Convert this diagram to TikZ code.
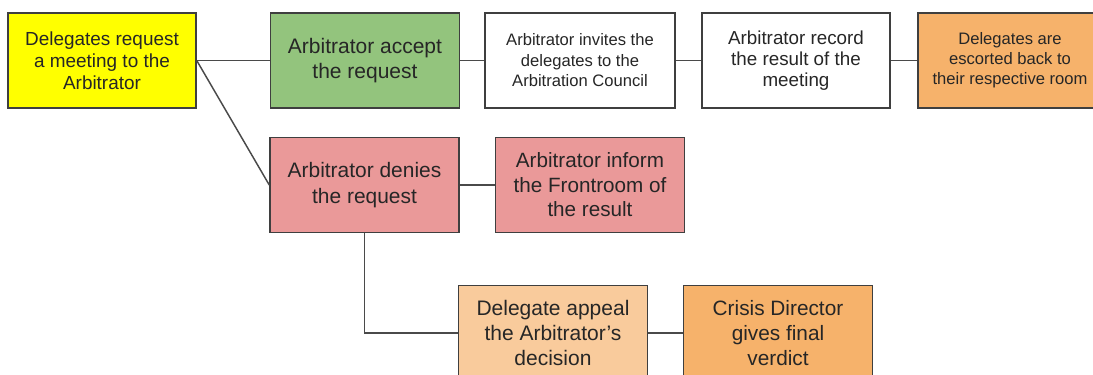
\documentclass[tikz,border=0pt]{standalone}
\usepackage{fontspec}
\setmainfont{Liberation Sans}
\definecolor{bordc}{HTML}{3F3F3F}
\definecolor{linec}{HTML}{4A4A4A}
\definecolor{textc}{HTML}{262626}
\definecolor{cyellow}{HTML}{FFFF00}
\definecolor{cgreen}{HTML}{93C47D}
\definecolor{cred}{HTML}{EA9999}
\definecolor{clorange}{HTML}{F9CB9C}
\definecolor{corange}{HTML}{F6B26B}
\begin{document}
\begin{tikzpicture}[x=0.75pt,y=-0.75pt,
  box/.style={draw=bordc, line width=1.1pt, minimum width=141.75pt, minimum height=71.25pt,
              align=center, inner sep=0pt, text=textc},
  conn/.style={draw=linec, line width=1.1pt}]
\useasboundingbox (0,0) rectangle (1093,375);
\clip (0,0) rectangle (1093,375);
\fill[white] (0,0) rectangle (1093,375);
\node[box, fill=cyellow, minimum width=141pt, font=\fontsize{14.2}{16.3}\selectfont] (b1) at (102,60.5)
  {Delegates request\\a meeting to the\\Arbitrator};
\node[box, fill=cgreen, font=\fontsize{15.75}{18.75}\selectfont] (b2) at (365,60.5)
  {Arbitrator accept\\the request};
\node[box, fill=white, minimum width=142.5pt, font=\fontsize{12.45}{15.4}\selectfont] (b3) at (580,60.5)
  {Arbitrator invites the\\delegates to the\\Arbitration Council};
\node[box, fill=white, minimum width=141pt, font=\fontsize{14.1}{16}\selectfont] (b4) at (796,60.5)
  {Arbitrator record\\the result of the\\meeting};
\node[box, fill=corange, minimum width=138pt, font=\fontsize{12.45}{15}\selectfont] (b5) at (1010,60.5)
  {Delegates are\\escorted back to\\their respective room};
\node[box, fill=cred, font=\fontsize{15.7}{19}\selectfont] (b6) at (364.5,185)
  {Arbitrator denies\\the request};
\node[box, fill=cred, font=\fontsize{15.5}{18.4}\selectfont] (b7) at (590,185)
  {Arbitrator inform\\the Frontroom of\\the result};
\node[box, fill=clorange, font=\fontsize{15.75}{18.5}\selectfont] (b8) at (553,333)
  {Delegate appeal\\the Arbitrator's\\decision};
\node[box, fill=corange, font=\fontsize{15.6}{18.5}\selectfont] (b9) at (778,333)
  {Crisis Director\\gives final\\verdict};
\draw[conn] (b1.east) -- (b2.west);
\draw[conn] (b2.east) -- (b3.west);
\draw[conn] (b3.east) -- (b4.west);
\draw[conn] (b4.east) -- (b5.west);
\draw[conn] (b1.east) -- (b6.west);
\draw[conn] (b6.east) -- (b7.west);
\draw[conn] (b6.south) |- (b8.west);
\draw[conn] (b8.east) -- (b9.west);
\end{tikzpicture}
\end{document}
